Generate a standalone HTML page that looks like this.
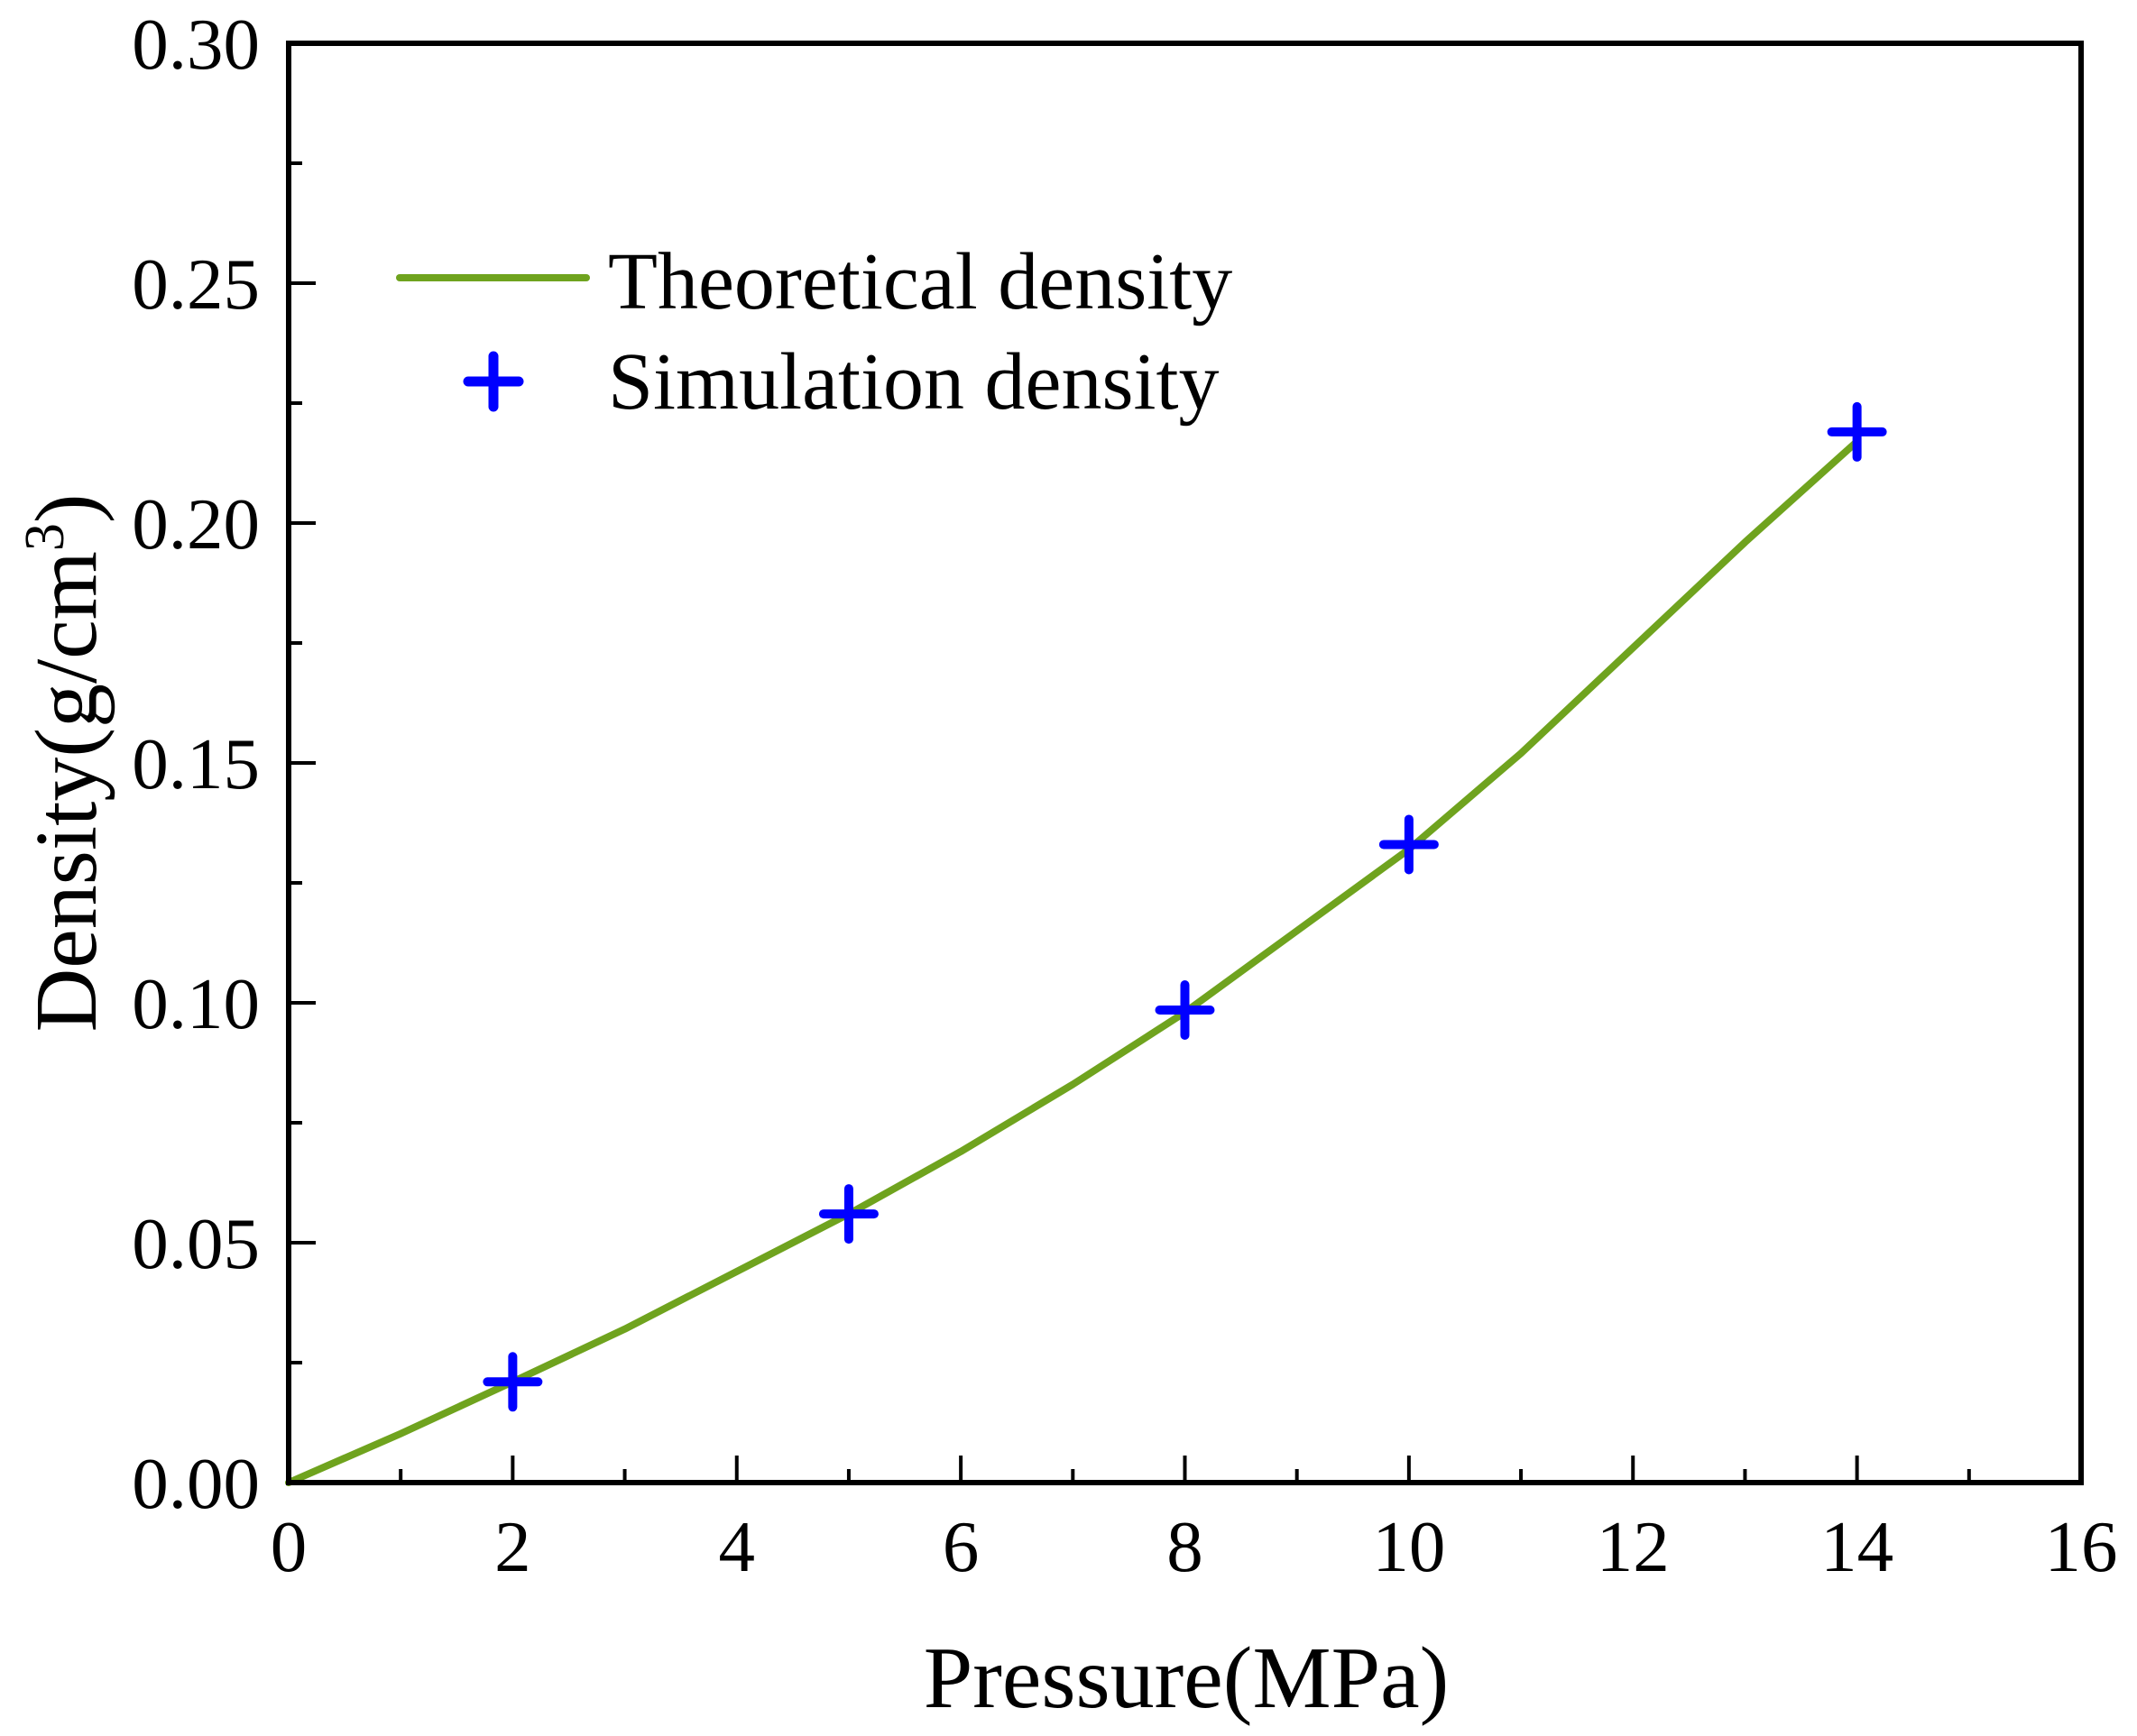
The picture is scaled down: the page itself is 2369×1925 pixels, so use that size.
<!DOCTYPE html>
<html><head><meta charset="utf-8"><style>
html,body{margin:0;padding:0;background:#fff;}
svg{display:block;font-family:"Liberation Serif","Times New Roman",serif;}
</style></head><body>
<svg id="chart" width="2369" height="1925" viewBox="0 0 2369 1925" xmlns="http://www.w3.org/2000/svg">
<rect width="2369" height="1925" fill="#fff"/>
<g id="grid"></g>
<g id="marks"></g>
<rect x="320" y="48" width="1987" height="1596" fill="none" stroke="#000" stroke-width="6"/>
<text x="1315" y="1893" font-size="98" text-anchor="middle">Pressure(MPa)</text>
<text transform="translate(106,846) rotate(-90)" font-size="98" text-anchor="middle">Density(g/cm<tspan font-size="62" dy="-36">3</tspan><tspan dy="36">)</tspan></text>
<g>
<line x1="443" y1="308" x2="650" y2="308" stroke="#6fa31e" stroke-width="8" stroke-linecap="round"/>
<text x="674" y="342" font-size="90">Theoretical density</text>
<g stroke="#0000ff" stroke-width="11" stroke-linecap="round">
<line x1="519" y1="423" x2="575" y2="423"/><line x1="547" y1="395" x2="547" y2="451"/></g>
<text x="674" y="453" font-size="90">Simulation density</text>
</g>
</svg>
<script>
const xTicks=[0,2,4,6,8,10,12,14,16];
const yTicks=[0,0.05,0.10,0.15,0.20,0.25,0.30];
const yTickLabels=["0.00","0.05","0.10","0.15","0.20","0.25","0.30"];
const theoPressure=[0,1,2,3,4,5,6,7,8,9,10,11,12,13,14];
const theoDensity=[0,0.0102,0.021,0.032,0.044,0.056,0.069,0.083,0.098,0.115,0.132,0.152,0.174,0.196,0.217];
const simPressure=[2,5,8,10,14];
const simDensity=[0.021,0.056,0.0985,0.133,0.219];
const NS="http://www.w3.org/2000/svg";
const L=320,R=2307,T=48,B=1644;
const xs=v=>L+(v-0)/(16-0)*(R-L);
const ys=v=>B-(v-0)/(0.3-0)*(B-T);
function mk(tag,attrs,parent){const e=document.createElementNS(NS,tag);for(const k in attrs)e.setAttribute(k,attrs[k]);parent.appendChild(e);return e;}
const g=document.getElementById('grid'),m=document.getElementById('marks');
xTicks.forEach((v,i)=>{
  const t=mk('line',{x1:xs(v),x2:xs(v),y1:B,y2:B-30,stroke:'#000','stroke-width':4},g);
  
  
  if(i<xTicks.length-1){const mv=(v+xTicks[i+1])/2;
    const mt=mk('line',{x1:xs(mv),x2:xs(mv),y1:B,y2:B-15,stroke:'#000','stroke-width':4},g);
    
    }
  const lb=mk('text',{x:xs(v),y:1742,'font-size':81,'text-anchor':'middle'},g);lb.textContent=String(v);
  
  
});
yTicks.forEach((v,i)=>{
  const t=mk('line',{x1:L,x2:L+30,y1:ys(v),y2:ys(v),stroke:'#000','stroke-width':4},g);
  
  
  if(i<yTicks.length-1){const mv=(v+yTicks[i+1])/2;
    const mt=mk('line',{x1:L,x2:L+15,y1:ys(mv),y2:ys(mv),stroke:'#000','stroke-width':4},g);
    
    }
  const lb=mk('text',{x:288,y:ys(v)+28,'font-size':81,'text-anchor':'end'},g);lb.textContent=yTickLabels[i];
  
  
});
const pts=theoPressure.map((p,i)=>xs(p)+','+ys(theoDensity[i])).join(' ');
const pl=mk('polyline',{points:pts,fill:'none',stroke:'#6fa31e','stroke-width':8,'stroke-linejoin':'round','stroke-linecap':'round'},m);


simPressure.forEach((p,i)=>{
  const cx=xs(p),cy=ys(simDensity[i]);
  const gg=mk('g',{stroke:'#0000ff','stroke-width':10,'stroke-linecap':'round'},m);
  
  
  mk('line',{x1:cx-28,x2:cx+28,y1:cy,y2:cy},gg);
  mk('line',{x1:cx,x2:cx,y1:cy-28,y2:cy+28},gg);
});
</script>
</body></html>
